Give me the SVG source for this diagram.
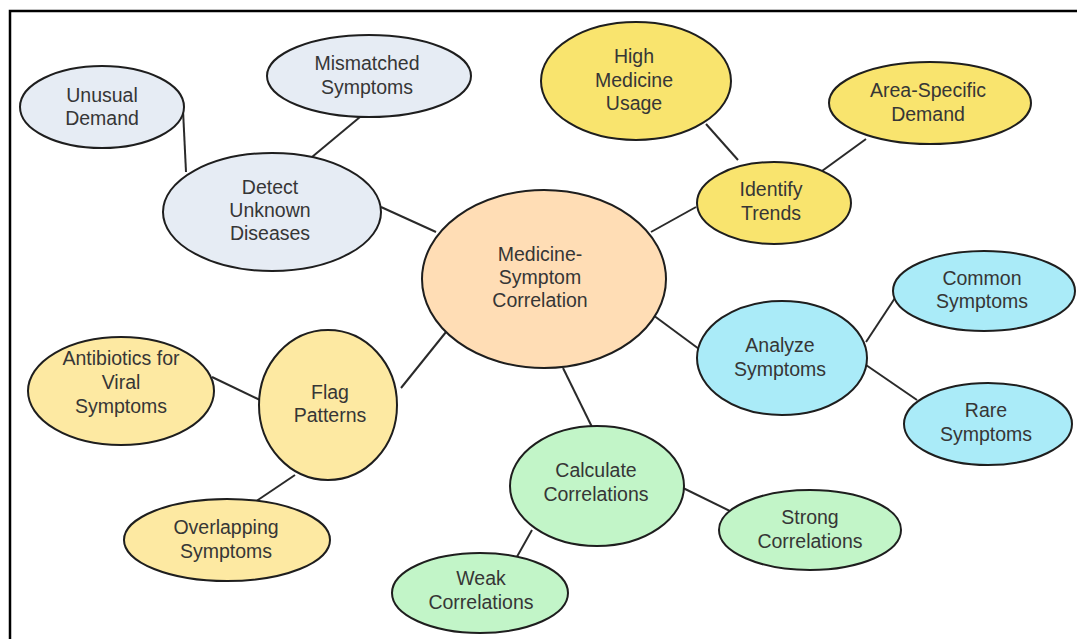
<svg xmlns="http://www.w3.org/2000/svg" width="1077" height="639" viewBox="0 0 1077 639">
<style>
.n{stroke:#1e1e1e;stroke-width:2}
.t{font-family:"Liberation Sans",Arial,sans-serif;font-size:19.5px;fill:#363636;text-anchor:middle}
.c line{stroke:#2a2a2a;stroke-width:2}
.gray{fill:#E6ECF4}.peach{fill:#FFDDB5}.yel{fill:#F9E46E}.lyel{fill:#FDE9A2}.cyan{fill:#AAEBF8}.green{fill:#C2F5C8}
</style>
<rect width="1077" height="639" fill="#fff"/>
<path d="M10,639 V11 H1077" fill="none" stroke="#000" stroke-width="2.5"/>
<g id="connectors" class="c">
<line x1="183" y1="110" x2="186" y2="172"/>
<line x1="360" y1="117" x2="312" y2="157"/>
<line x1="381" y1="207" x2="436" y2="232"/>
<line x1="706" y1="124" x2="738" y2="160"/>
<line x1="866" y1="139" x2="822" y2="171"/>
<line x1="696" y1="207" x2="651" y2="232"/>
<line x1="653" y1="315" x2="699" y2="349"/>
<line x1="866" y1="342" x2="895" y2="298"/>
<line x1="866" y1="365" x2="917" y2="400"/>
<line x1="563" y1="368" x2="592" y2="427"/>
<line x1="681" y1="487" x2="732" y2="512"/>
<line x1="532" y1="530" x2="514" y2="562"/>
<line x1="446" y1="332" x2="401" y2="388"/>
<line x1="212" y1="377" x2="260" y2="400"/>
<line x1="295" y1="475" x2="249" y2="506"/>
</g>
<g id="n-unusual"><ellipse class="n gray" cx="102" cy="107" rx="82" ry="41"/><text class="t" x="102" y="102">Unusual</text><text class="t" x="102" y="125">Demand</text></g>
<g id="n-mismatched"><ellipse class="n gray" cx="369" cy="76" rx="102" ry="41"/><text class="t" x="367" y="70">Mismatched</text><text class="t" x="367" y="94">Symptoms</text></g>
<g id="n-detect"><ellipse class="n gray" cx="272" cy="212" rx="109" ry="59"/><text class="t" x="270" y="194">Detect</text><text class="t" x="270" y="217">Unknown</text><text class="t" x="270" y="240">Diseases</text></g>
<g id="n-central"><ellipse class="n peach" cx="544" cy="279" rx="122" ry="89"/><text class="t" x="540" y="261">Medicine-</text><text class="t" x="540" y="284">Symptom</text><text class="t" x="540" y="307">Correlation</text></g>
<g id="n-high"><ellipse class="n yel" cx="636" cy="81" rx="95" ry="59"/><text class="t" x="634" y="63">High</text><text class="t" x="634" y="87">Medicine</text><text class="t" x="634" y="110">Usage</text></g>
<g id="n-area"><ellipse class="n yel" cx="930" cy="103" rx="101" ry="41"/><text class="t" x="928" y="97">Area-Specific</text><text class="t" x="928" y="121">Demand</text></g>
<g id="n-identify"><ellipse class="n yel" cx="774" cy="203" rx="77" ry="41"/><text class="t" x="771" y="196">Identify</text><text class="t" x="771" y="220">Trends</text></g>
<g id="n-common"><ellipse class="n cyan" cx="984" cy="291" rx="91" ry="40"/><text class="t" x="982" y="285">Common</text><text class="t" x="982" y="308">Symptoms</text></g>
<g id="n-analyze"><ellipse class="n cyan" cx="782" cy="358" rx="85" ry="57"/><text class="t" x="780" y="352">Analyze</text><text class="t" x="780" y="376">Symptoms</text></g>
<g id="n-rare"><ellipse class="n cyan" cx="988" cy="424" rx="84" ry="41"/><text class="t" x="986" y="417">Rare</text><text class="t" x="986" y="441">Symptoms</text></g>
<g id="n-calc"><ellipse class="n green" cx="597" cy="486" rx="87" ry="60"/><text class="t" x="596" y="477">Calculate</text><text class="t" x="596" y="501">Correlations</text></g>
<g id="n-strong"><ellipse class="n green" cx="810" cy="530" rx="91" ry="40"/><text class="t" x="810" y="524">Strong</text><text class="t" x="810" y="548">Correlations</text></g>
<g id="n-weak"><ellipse class="n green" cx="480" cy="593" rx="88" ry="40"/><text class="t" x="481" y="585">Weak</text><text class="t" x="481" y="609">Correlations</text></g>
<g id="n-flag"><ellipse class="n lyel" cx="328" cy="405" rx="69" ry="75"/><text class="t" x="330" y="399">Flag</text><text class="t" x="330" y="422">Patterns</text></g>
<g id="n-antibiotics"><ellipse class="n lyel" cx="121" cy="391" rx="93" ry="54"/><text class="t" x="121" y="365">Antibiotics for</text><text class="t" x="121" y="389">Viral</text><text class="t" x="121" y="413">Symptoms</text></g>
<g id="n-overlap"><ellipse class="n lyel" cx="227" cy="540" rx="103" ry="41"/><text class="t" x="226" y="534">Overlapping</text><text class="t" x="226" y="558">Symptoms</text></g>
</svg>
